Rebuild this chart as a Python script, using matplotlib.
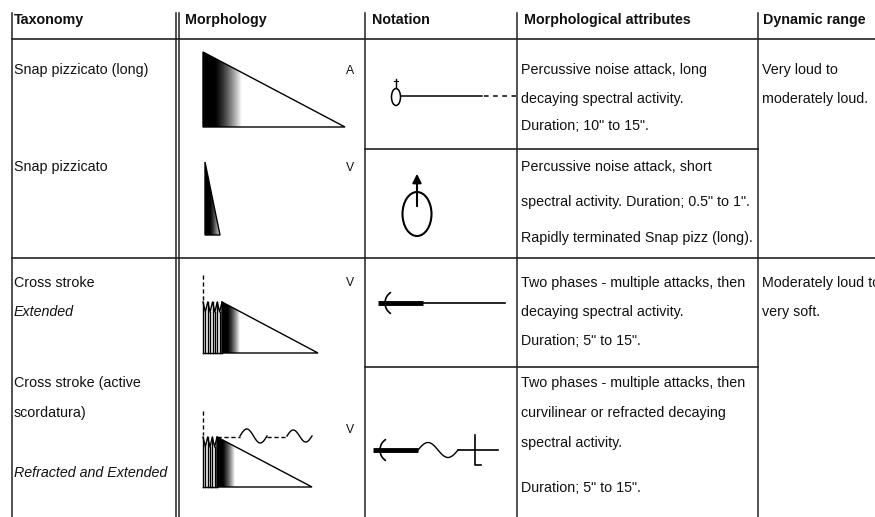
import matplotlib.pyplot as plt
import numpy as np
from matplotlib.patches import Polygon, Ellipse, Arc

plt.rcParams['font.family'] = ['Liberation Sans', 'DejaVu Sans']

# ---- table content ----
headers = ["Taxonomy", "Morphology", "Notation", "Morphological attributes", "Dynamic range"]
header_x = [14, 185, 372, 524, 763]

taxonomy_text = ["Snap pizzicato (long)", "Snap pizzicato", "Cross stroke", "Extended",
                 "Cross stroke (active", "scordatura)", "Refracted and Extended"]
taxonomy_y = [70, 167, 283, 312, 383, 413, 473]
taxonomy_italic = [False, False, False, True, False, False, True]

morph_letters = ["A", "V", "V", "V"]
morph_letter_y = [71, 168, 283, 430]

attr_text = ["Percussive noise attack, long", "decaying spectral activity.", 'Duration; 10" to 15".',
             "Percussive noise attack, short", 'spectral activity. Duration; 0.5" to 1".',
             "Rapidly terminated Snap pizz (long).",
             "Two phases - multiple attacks, then", "decaying spectral activity.", 'Duration; 5" to 15".',
             "Two phases - multiple attacks, then", "curvilinear or refracted decaying",
             "spectral activity.", 'Duration; 5" to 15".']
attr_y = [70, 99, 126, 167, 202, 238, 283, 312, 341, 383, 413, 443, 488]

dyn_text = ["Very loud to", "moderately loud.", "Moderately loud to", "very soft."]
dyn_y = [70, 99, 283, 312]

col_x = [12, 176, 179, 365, 517, 758]
row_lines = [(12, 875, 39), (365, 758, 149), (12, 875, 258), (365, 758, 367)]

FS = 10.3
LC = '#222222'
TC = '#111111'

fig = plt.figure(figsize=(8.75, 5.17), dpi=100)
ax = fig.add_axes([0, 0, 1, 1])


def grad_triangle(pts, gx0, gx1):
    poly = Polygon(pts, closed=True, fill=False, ec='black', lw=1.0, zorder=3)
    ax.add_patch(poly)
    t = np.linspace(0, 1, 256)
    vals = np.clip((t - 0.3) / 0.7, 0, 1) ** 1.3
    ys = [p[1] for p in pts]
    im = ax.imshow(vals[None, :], cmap='gray', vmin=0, vmax=1,
                   extent=(gx0, gx1, max(ys), min(ys)), aspect='auto',
                   interpolation='bilinear', zorder=2)
    im.set_clip_path(poly)


def zigzag(x0, x1, n, top, bottom):
    peaks = np.linspace(x0, x1, n)
    xs, ys = [], []
    for i, p in enumerate(peaks):
        xs.append(p)
        ys.append(top)
        ax.plot([p, p], [top, bottom], color='black', lw=1.0)
        if i < n - 1:
            m = (p + peaks[i + 1]) / 2
            xs.append(m)
            ys.append(top + 10)
            ax.plot([m, m], [top + 10, bottom], color='black', lw=1.0)
    ax.plot(xs, ys, color='black', lw=1.0)
    ax.plot([x0, x1], [bottom, bottom], color='black', lw=1.0)


def wave(x0, x1, yc, amp):
    xs = np.linspace(x0, x1, 60)
    ax.plot(xs, yc - amp * np.sin(2 * np.pi * (xs - x0) / (x1 - x0)), color='black', lw=1.0)


# ---- grid ----
for x in col_x:
    ax.plot([x, x], [13, 517], color=LC, lw=1.1)
for x0, x1, y in row_lines:
    ax.plot([x0, x1], [y, y], color=LC, lw=1.2)

# ---- text ----
for h, x in zip(headers, header_x):
    ax.text(x, 20, h, fontsize=FS, fontweight='bold', va='center', ha='left', color=TC)
for s, y, it in zip(taxonomy_text, taxonomy_y, taxonomy_italic):
    ax.text(14, y, s, fontsize=FS, style='italic' if it else 'normal', va='center', color=TC)
for s, y in zip(morph_letters, morph_letter_y):
    ax.text(350, y, s, fontsize=FS - 1.5, va='center', ha='center', color=TC)
for s, y in zip(attr_text, attr_y):
    ax.text(521, y, s, fontsize=FS, va='center', color=TC)
for s, y in zip(dyn_text, dyn_y):
    ax.text(762, y, s, fontsize=FS, va='center', color=TC)

# ---- morphology drawings ----
grad_triangle([(203, 52), (203, 127), (345, 127)], 203, 242)
grad_triangle([(205, 162), (205, 235), (220, 235)], 205, 221)

ax.plot([203, 203], [275, 300], color='black', lw=1.0, ls=(0, (3, 2)))
zigzag(203, 222, 5, 302, 353)
grad_triangle([(222, 302), (222, 353), (318, 353)], 222, 240)

ax.plot([203, 203], [411, 435], color='black', lw=1.0, ls=(0, (3, 2)))
zigzag(203, 217, 4, 437, 487)
grad_triangle([(217, 437), (217, 487), (312, 487)], 217, 235)
ax.plot([217, 240], [437, 437], color='black', lw=1.0, ls=(0, (3, 2)))
wave(240, 267, 436, 7)
ax.plot([267, 287], [437, 437], color='black', lw=1.0, ls=(0, (3, 2)))
wave(287, 312, 436, 6)

# ---- notation drawings ----
ax.add_patch(Ellipse((396, 97), 9, 17, fill=False, ec='black', lw=1.1))
ax.plot([396, 396], [79, 88], color='black', lw=1.0)
ax.plot([394, 398], [81, 81], color='black', lw=0.8)
ax.plot([401, 482], [96, 96], color='black', lw=1.1)
ax.plot([484, 516], [96, 96], color='black', lw=1.1, ls=(0, (3, 3)))

ax.add_patch(Ellipse((417, 214), 29, 44, fill=False, ec='black', lw=1.5))
ax.annotate('', xy=(417, 171), xytext=(417, 209),
            arrowprops=dict(arrowstyle='-|>', color='black', lw=1.5, mutation_scale=13))

ax.plot([378, 423], [303, 303], color='black', lw=3.5, solid_capstyle='butt')
ax.plot([423, 505], [303, 303], color='black', lw=1.2)
ax.add_patch(Arc((396, 303), 22, 24, theta1=115, theta2=245, color='black', lw=1.2))

ax.plot([373, 418], [450, 450], color='black', lw=3.5, solid_capstyle='butt')
ax.add_patch(Arc((391, 450), 22, 24, theta1=115, theta2=245, color='black', lw=1.2))
wave(418, 458, 450, 7.5)
ax.plot([458, 498], [450, 450], color='black', lw=1.2)
ax.plot([475, 475, 481], [435, 465, 465], color='black', lw=1.2)

ax.set_xlim(0, 875)
ax.set_ylim(517, 0)
ax.axis('off')
fig.savefig('out.png', dpi=100)
